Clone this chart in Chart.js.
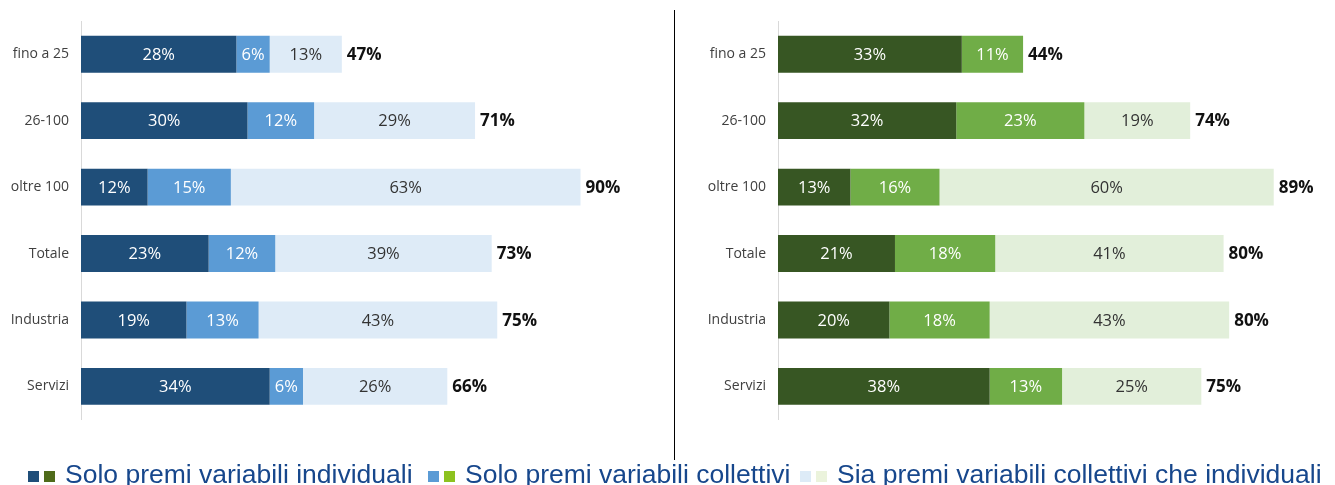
<!DOCTYPE html>
<html>
<head>
<meta charset="utf-8">
<script src="https://cdn.jsdelivr.net/npm/chart.js@4.4.1/dist/chart.umd.min.js"></script>
<style>
    body { margin: 0; background: #fff; width: 1335px; height: 485px; position: relative; overflow: hidden; }
    .box { position: absolute; top: 0; height: 440px; }
    #leftBox { left: 0; width: 675px; }
    #rightBox { left: 676px; width: 659px; }
    #divider { position: absolute; left: 674px; top: 10px; width: 1px; height: 450px; background: #000; }
    .sq { position: absolute; top: 471px; width: 11px; height: 11px; }
    .txt { position: absolute; top: 459px; line-height: 30px; font-family: "Liberation Sans", Arial, sans-serif; font-size: 26.5px; color: #17478c; white-space: nowrap; }
</style>
</head>
<body>
<div class="box" id="leftBox"><canvas id="leftChart"></canvas></div>
<div class="box" id="rightBox"><canvas id="rightChart"></canvas></div>
<div id="divider"></div>
<div id="legend"></div>

<script>
// --- Data ---
const categories = ['fino a 25', '26-100', 'oltre 100', 'Totale', 'Industria', 'Servizi'];
const seriesNames = ['Solo premi variabili individuali', 'Solo premi variabili collettivi', 'Sia premi variabili collettivi che individuali'];

// left panel (blue)
const leftIndividuali = [28, 30, 12, 23, 19, 34];
const leftCollettivi = [6, 12, 15, 12, 13, 6];
const leftEntrambi = [13, 29, 63, 39, 43, 26];
const leftTotals = [47, 71, 90, 73, 75, 66];

// right panel (green)
const rightIndividuali = [33, 32, 13, 21, 20, 38];
const rightCollettivi = [11, 23, 16, 18, 18, 13];
const rightEntrambi = [0, 19, 60, 41, 43, 25];
const rightTotals = [44, 74, 89, 80, 80, 75];

const blues = ['#1f4e79', '#5b9bd5', '#deebf7'];
const greens = ['#375623', '#70ad47', '#e2efda'];
const legendBlues = ['#1f4e79', '#5b9bd5', '#ddebf7'];
const legendGreens = ['#4f6b1a', '#8dc21f', '#ebf3dc'];
const labelColors = ['#ffffff', '#ffffff', '#333333'];

const labelFont = '"Open Sans", "DejaVu Sans", sans-serif';

// draws the value inside each segment and the bold total after the bar
const barLabels = {
    id: 'barLabels',
    afterDatasetsDraw(chart, args, opts) {
        const ctx = chart.ctx;
        ctx.save();
        ctx.textBaseline = 'middle';
        chart.data.datasets.forEach((ds, i) => {
            const meta = chart.getDatasetMeta(i);
            meta.data.forEach((bar, j) => {
                const v = ds.data[j];
                if (!v) return;
                ctx.font = '16.5px ' + labelFont;
                ctx.fillStyle = labelColors[i];
                ctx.textAlign = 'center';
                ctx.fillText(v + '%', (bar.x + bar.base) / 2, bar.y + 1);
            });
        });
        const last = chart.data.datasets.length - 1;
        opts.totals.forEach((t, j) => {
            let end = chart.scales.x.left;
            chart.data.datasets.forEach((ds, i) => {
                const bar = chart.getDatasetMeta(i).data[j];
                if (ds.data[j]) end = Math.max(end, bar.x);
            });
            ctx.font = 'bold 17px ' + labelFont;
            ctx.fillStyle = '#111';
            ctx.textAlign = 'left';
            ctx.fillText(t + '%', end + 5, chart.getDatasetMeta(last).data[j].y + 1);
        });
        ctx.restore();
    }
};

function makeChart(id, series, colors, totals, axisWidth, padRight) {
    const datasets = series.map((data, i) => ({
        label: seriesNames[i],
        data: data,
        backgroundColor: colors[i],
        borderWidth: 0,
        barPercentage: 0.555,
        categoryPercentage: 1
    }));
    return new Chart(document.getElementById(id), {
        type: 'bar',
        data: { labels: categories, datasets },
        options: {
            indexAxis: 'y',
            responsive: true,
            maintainAspectRatio: false,
            animation: false,
            layout: { padding: { top: 21, bottom: 19, right: padRight, left: 0 } },
            plugins: {
                legend: { display: false },
                tooltip: { enabled: false },
                barLabels: { totals }
            },
            scales: {
                x: { stacked: true, min: 0, max: 100, display: false },
                y: {
                    stacked: true,
                    grid: { display: false, drawTicks: false },
                    border: { display: true, color: '#d9d9d9', width: 1 },
                    ticks: { color: '#404040', padding: 12, font: { size: 14, family: labelFont } },
                    afterFit: (s) => { s.width = axisWidth; }
                }
            }
        },
        plugins: [barLabels]
    });
}

makeChart('leftChart', [leftIndividuali, leftCollettivi, leftEntrambi], blues, leftTotals, 81, 39);
makeChart('rightChart', [rightIndividuali, rightCollettivi, rightEntrambi], greens, rightTotals, 102, 0);

// legend with paired blue/green swatches (html, placed under both panels)
const legendX = [28, 428, 800];
const legend = document.getElementById('legend');
seriesNames.forEach((name, i) => {
    const x = legendX[i];
    legend.insertAdjacentHTML('beforeend',
        `<span class="sq" style="left:${x}px;background:${legendBlues[i]}"></span>` +
        `<span class="sq" style="left:${x + 16}px;background:${legendGreens[i]}"></span>` +
        `<span class="txt" style="left:${x + 37}px">${name}</span>`);
});
</script>
</body>
</html>
